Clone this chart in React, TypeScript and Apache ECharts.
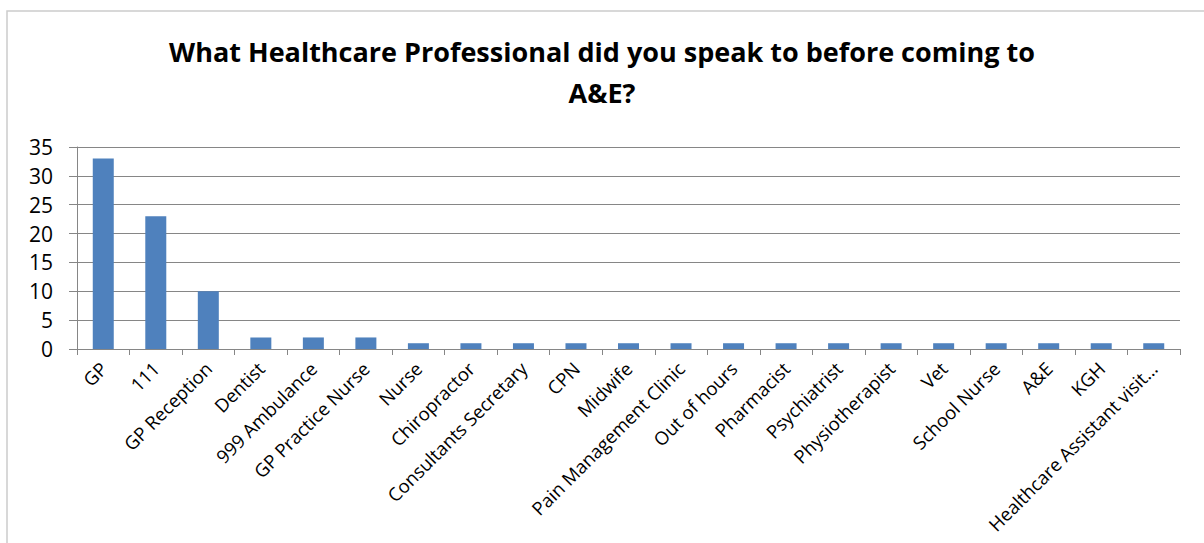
import React, { useEffect, useRef } from "react";
import * as echarts from "echarts";

const titleText = "What Healthcare Professional did you speak to before coming to\nA&E?";
const categories = [
  "GP", "111", "GP Reception", "Dentist", "999 Ambulance", "GP Practice Nurse", "Nurse",
  "Chiropractor", "Consultants Secretary", "CPN", "Midwife", "Pain Management Clinic",
  "Out of hours", "Pharmacist", "Psychiatrist", "Physiotherapist", "Vet", "School Nurse",
  "A&E", "KGH", "Healthcare Assistant visit...",
];
const values = [33, 23, 10, 2, 2, 2, 1, 1, 1, 1, 1, 1, 1, 1, 1, 1, 1, 1, 1, 1, 1];

export default function App() {
  const ref = useRef<HTMLDivElement>(null);
  useEffect(() => {
    if (!ref.current) return;
    const chart = echarts.init(ref.current, undefined, { renderer: "svg" });
    const font = "Open Sans, Liberation Sans, sans-serif";
    chart.setOption({
      animation: false,
      backgroundColor: "#ffffff",
      graphic: [
        {
          type: "rect",
          shape: { x: 7, y: 11, width: 1400, height: 700 },
          style: { fill: "none", stroke: "#cccccc", lineWidth: 1.5 },
          silent: true,
        },
      ],
      title: {
        text: titleText,
        left: "center",
        top: 26,
        textStyle: {
          fontFamily: font,
          fontWeight: "bold",
          fontSize: 27,
          lineHeight: 41,
          color: "#000000",
        },
      },
      grid: { left: 77, right: 24, top: 147, bottom: 194, containLabel: false },
      xAxis: {
        type: "category",
        data: categories,
        boundaryGap: true,
        axisLine: { lineStyle: { color: "#868686", width: 1 } },
        axisTick: { show: true, alignWithLabel: false, length: 6, lineStyle: { color: "#868686" } },
        axisLabel: {
          rotate: 45,
          interval: 0,
          margin: 16,
          fontFamily: font,
          fontSize: 18.5,
          color: "#000000",
        },
      },
      yAxis: {
        type: "value",
        min: 0,
        max: 35,
        interval: 5,
        axisLine: { show: true, lineStyle: { color: "#868686", width: 1 } },
        axisTick: { show: true, length: 8, lineStyle: { color: "#868686" } },
        splitLine: { lineStyle: { color: "#868686", width: 1 } },
        axisLabel: {
          margin: 24,
          fontFamily: font,
          fontSize: 21,
          color: "#000000",
        },
      },
      series: [
        {
          type: "bar",
          data: values,
          barWidth: 21,
          itemStyle: { color: "#4F81BD" },
        },
      ],
    });
    return () => chart.dispose();
  }, []);
  return (
    <div
      ref={ref}
      style={{ position: "fixed", left: 0, top: 0, width: 1204, height: 543 }}
    />
  );
}
